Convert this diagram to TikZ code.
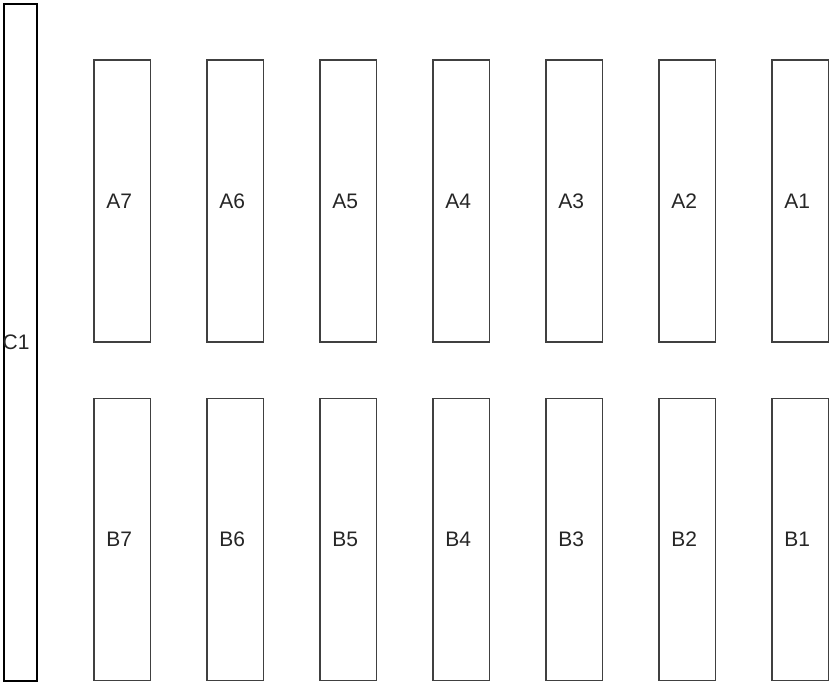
\documentclass[tikz,border=0pt]{standalone}
\usepackage{fontspec}
\setmainfont{Liberation Sans}
\begin{document}
\begin{tikzpicture}[x=1pt,y=-1pt,
  lbl/.style={font=\fontsize{21}{24}\selectfont,text=black!85,inner sep=0pt},
  box/.style={draw=black!75,line width=1.2pt,fill=white,minimum width=56.5pt,inner sep=0pt},
  tallbox/.style={draw=black,line width=1.2pt,fill=white,minimum width=33pt,minimum height=677pt,inner sep=0pt}]
\useasboundingbox (0,0) rectangle (830,684);
\node[tallbox] (C) at (20.5,342.5) {};
\node[lbl,anchor=west] (c1) at (2.5,342.5) {C1};
\foreach \i/\x in {7/122.25,6/235.25,5/348.25,4/461.25,3/574.25,2/687.25,1/800.25}{
  \node[box,minimum height=282pt] (A\i) at (\x,201) {};
  \node[lbl] (a\i) at ([xshift=-3pt]A\i.center) {A\i};
  \node[box,minimum height=282pt] (B\i) at (\x,539.5) {};
  \node[lbl] (b\i) at ([xshift=-3pt]B\i.center) {B\i};
}
\end{tikzpicture}
\end{document}
